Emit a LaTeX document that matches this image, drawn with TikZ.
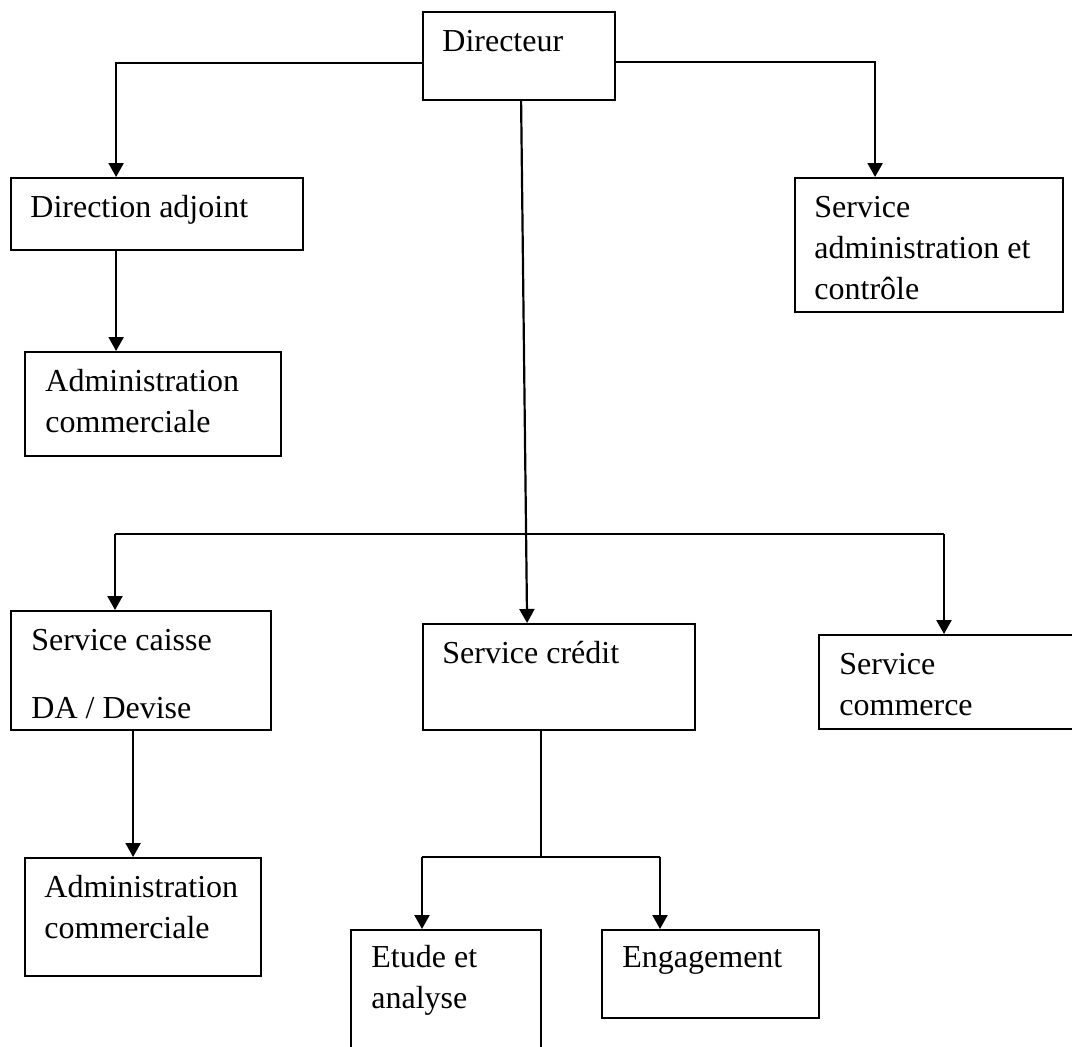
\documentclass[tikz,border=0pt]{standalone}
\usepackage{fontspec}
\setmainfont{Liberation Serif}
\usepackage{tikz}
\usetikzlibrary{arrows.meta, positioning, calc}
\tikzset{
  boite/.style={rectangle, draw=black, line width=1.1pt, anchor=north west,
    inner sep=0pt},
  texte/.style={anchor=base west, inner sep=0pt, align=left,
    font=\fontsize{16}{20.5}\selectfont},
  ligne/.style={line width=1.1pt, color=black},
  fleche/.style={-{Triangle[length=7pt, width=7.5pt]}, line width=1.1pt, color=black}
}

\begin{document}
\begin{tikzpicture}[x=0.5pt, y=-0.5pt]
  \useasboundingbox (0,0) rectangle (1072,1046);

  % Boxes
  \node[boite, minimum width=96pt, minimum height=44pt] (dir) at (422,11) {};
  \node[boite, minimum width=146pt, minimum height=36pt] (adj) at (10,177) {};
  \node[boite, minimum width=128pt, minimum height=52pt] (adm1) at (24,351) {};
  \node[boite, minimum width=134pt, minimum height=67pt] (sac) at (794,177) {};
  \node[boite, minimum width=130pt, minimum height=59.5pt] (caisse) at (10,610) {};
  \node[boite, minimum width=136pt, minimum height=53pt] (credit) at (422,623) {};
  \node[boite, minimum width=134pt, minimum height=47pt] (commerce) at (818,634) {};
  \node[boite, minimum width=118pt, minimum height=59pt] (adm2) at (24,857) {};
  \node[boite, minimum width=95pt, minimum height=70pt] (etude) at (350,929) {};
  \node[boite, minimum width=108.5pt, minimum height=44pt] (engag) at (601,929) {};

  % Texts (base = last line)
  \node[texte] (t_dir) at (442,51) {Directeur};
  \node[texte] (t_adj) at (30,217) {Direction adjoint};
  \node[texte] (t_adm1) at (45,432) {Administration\\commerciale};
  \node[texte] (t_sac) at (814,299) {Service\\administration et\\contrôle};
  \node[texte] (t_caisse) at (31,718) {Service caisse\\[13.5pt]DA / Devise};
  \node[texte] (t_credit) at (442,663) {Service crédit};
  \node[texte] (t_commerce) at (839,715) {Service\\commerce};
  \node[texte] (t_adm2) at (44,938) {Administration\\commerciale};
  \node[texte] (t_etude) at (371,1008) {Etude et\\analyse};
  \node[texte] (t_engag) at (622,967) {Engagement};

  % Directeur to first level
  \draw[fleche] ([yshift=-3.5pt]dir.west) -| ([xshift=-20.5pt]adj.north);
  \draw[fleche] ([yshift=-3pt]dir.east) -| ([xshift=-27pt]sac.north);
  \draw[fleche] ([xshift=-20.5pt]adj.south) -- ([xshift=-20.5pt]adj.south |- adm1.north);

  % Directeur to second level
  \coordinate (bar_l) at (115,534);
  \coordinate (bar_r) at (944,534);
  \draw[ligne] (bar_l) -- (bar_r);
  \draw[fleche] (bar_l) -- (bar_l |- caisse.north);
  \draw[fleche] (bar_r) -- (bar_r |- commerce.north);
  \draw[fleche] ([xshift=1pt]dir.south) -- ([xshift=-16pt]credit.north);
  \draw[fleche] ([xshift=-4pt]caisse.south) -- ([xshift=-4pt]caisse.south |- adm2.north);

  % Service credit branches
  \coordinate (bar2_l) at (422,857);
  \coordinate (bar2_r) at (660,857);
  \draw[ligne] ([xshift=-9pt]credit.south) -- ([xshift=-9pt]credit.south |- bar2_l);
  \draw[ligne] (bar2_l) -- (bar2_r);
  \draw[fleche] (bar2_l) -- (bar2_l |- etude.north);
  \draw[fleche] (bar2_r) -- (bar2_r |- engag.north);
\end{tikzpicture}
\end{document}
